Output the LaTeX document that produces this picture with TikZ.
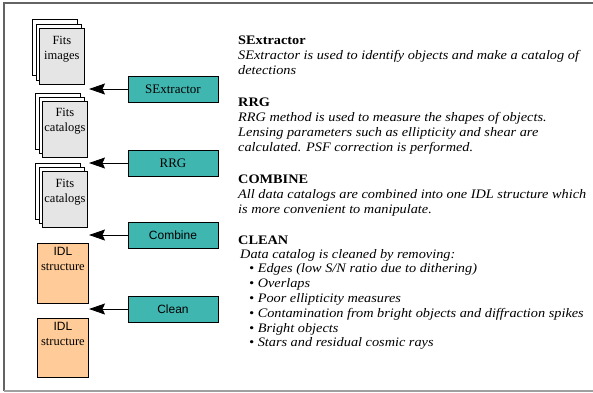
\documentclass[tikz,border=0pt]{standalone}
\usepackage{fontspec}
\setmainfont{Liberation Serif}
\newfontfamily\descfont{Liberation Serif}[FakeStretch=1.1]
\newfontfamily\boxsans{Liberation Sans}
\usetikzlibrary{arrows.meta}
\definecolor{procteal}{RGB}{64,182,176}
\definecolor{sheetgray}{RGB}{229,229,229}
\definecolor{idlpeach}{RGB}{255,204,153}
\definecolor{framegray}{RGB}{100,100,100}
\definecolor{framelight}{RGB}{160,160,160}
\tikzset{
  proc/.style={draw=black, fill=procteal, line width=0.8pt, minimum width=90pt, minimum height=26pt, inner sep=0pt},
  sheet/.style={draw=black, fill=sheetgray, line width=0.8pt, minimum width=45pt, minimum height=56pt, inner sep=0pt, anchor=north west},
  backsheet/.style={sheet, fill=white},
  idlbox/.style={draw=black, fill=idlpeach, line width=0.8pt, minimum width=51pt, minimum height=59pt, inner sep=0pt, anchor=north west},
  sheetlabel/.style={align=center, inner sep=0pt, anchor=north, font=\fontsize{12.5}{15}\selectfont},
  flow/.style={draw=black, line width=0.9pt, -{Stealth[length=16pt,width=11pt,inset=2.5pt]}},
  desc/.style={anchor=base west, inner sep=0pt, font=\descfont\fontsize{13}{15.5}\selectfont\itshape},
  desctitle/.style={anchor=base west, inner sep=0pt, font=\descfont\fontsize{13}{15.5}\selectfont\bfseries},
}
\begin{document}
\begin{tikzpicture}[x=1pt,y=-1pt]
\useasboundingbox (0,0) rectangle (593,392);
% frame
\draw[framegray, line width=1.2pt] (593,3) -- (4,3) -- (4,391);
\draw[framelight, line width=1.2pt] (4,391) -- (593,391);

% Fits images stack
\node[backsheet] (img3) at (32,19) {};
\node[backsheet] (img2) at (35.5,23.5) {};
\node[sheet] (img1) at (39,28) {};
\node[sheetlabel, yshift=-8.5pt] (imgl) at (img1.north) {Fits\\images};

% Fits catalogs stack 1
\node[backsheet] (cata3) at (35,93) {};
\node[backsheet] (cata2) at (38.5,97) {};
\node[sheet] (cata1) at (42,101) {};
\node[sheetlabel, yshift=-7pt] (catal) at (cata1.north) {Fits\\catalogs};

% Fits catalogs stack 2
\node[backsheet] (catb3) at (35,163) {};
\node[backsheet] (catb2) at (38.5,167) {};
\node[sheet] (catb1) at (42,171) {};
\node[sheetlabel, yshift=-8pt] (catbl) at (catb1.north) {Fits\\catalogs};

% IDL structures
\node[idlbox, minimum height=60pt] (idl1) at (37,243) {};
\node[sheetlabel, yshift=-4.5pt] (idl1l) at (idl1.north) {{\boxsans\fontsize{12}{15}\selectfont IDL}\\structure};
\node[idlbox] (idl2) at (37,318) {};
\node[sheetlabel, yshift=-4.5pt] (idl2l) at (idl2.north) {{\boxsans\fontsize{12}{15}\selectfont IDL}\\structure};

% process boxes
\node[proc, font=\fontsize{13}{15}\selectfont] (sex) at (173,89) {SExtractor};
\node[proc, font=\fontsize{13}{15}\selectfont] (rrg) at (173,163) {RRG};
\node[proc, font=\boxsans\fontsize{12}{14}\selectfont] (comb) at (173,235) {Combine};
\node[proc, font=\boxsans\fontsize{12}{14}\selectfont] (clean) at (173,309) {Clean};

% arrow targets
\coordinate (tsex) at (89,89);
\coordinate (trrg) at (89,163);
\coordinate (tcomb) at (89,235);
\coordinate (tclean) at (89,309);
\draw[flow] (sex.west) -- (tsex);
\draw[flow] (rrg.west) -- (trrg);
\draw[flow] (comb.west) -- (tcomb);
\draw[flow] (clean.west) -- (tclean);

% descriptions
\node[desctitle] (h1) at (238,44) {SExtractor};
\node[desc] (d11) at (238,59) {SExtractor is used to identify objects and make a catalog of};
\node[desc] (d12) at (238,74) {detections};

\node[desctitle] (h2) at (238,106) {RRG};
\node[desc] (d21) at (238,121) {RRG method is used to measure the shapes of objects.};
\node[desc] (d22) at (238,136) {Lensing parameters such as ellipticity and shear are};
\node[desc] (d23) at (238,151) {calculated. PSF correction is performed.};

\node[desctitle] (h3) at (238,183) {COMBINE};
\node[desc] (d31) at (238,198) {All data catalogs are combined into one IDL structure which};
\node[desc] (d32) at (238,213) {is more convenient to manipulate.};

\node[desctitle] (h4) at (238,244) {CLEAN};
\node[desc] (d41) at (240,258) {Data catalog is cleaned by removing:};
\node[desc] (d42) at (249,272) {\textbullet\ Edges (low S/N ratio due to dithering)};
\node[desc] (d43) at (249,287) {\textbullet\ Overlaps};
\node[desc] (d44) at (249,302) {\textbullet\ Poor ellipticity measures};
\node[desc] (d45) at (249,317) {\textbullet\ Contamination from bright objects and diffraction spikes};
\node[desc] (d46) at (249,332) {\textbullet\ Bright objects};
\node[desc] (d47) at (249,346) {\textbullet\ Stars and residual cosmic rays};
\end{tikzpicture}
\end{document}
